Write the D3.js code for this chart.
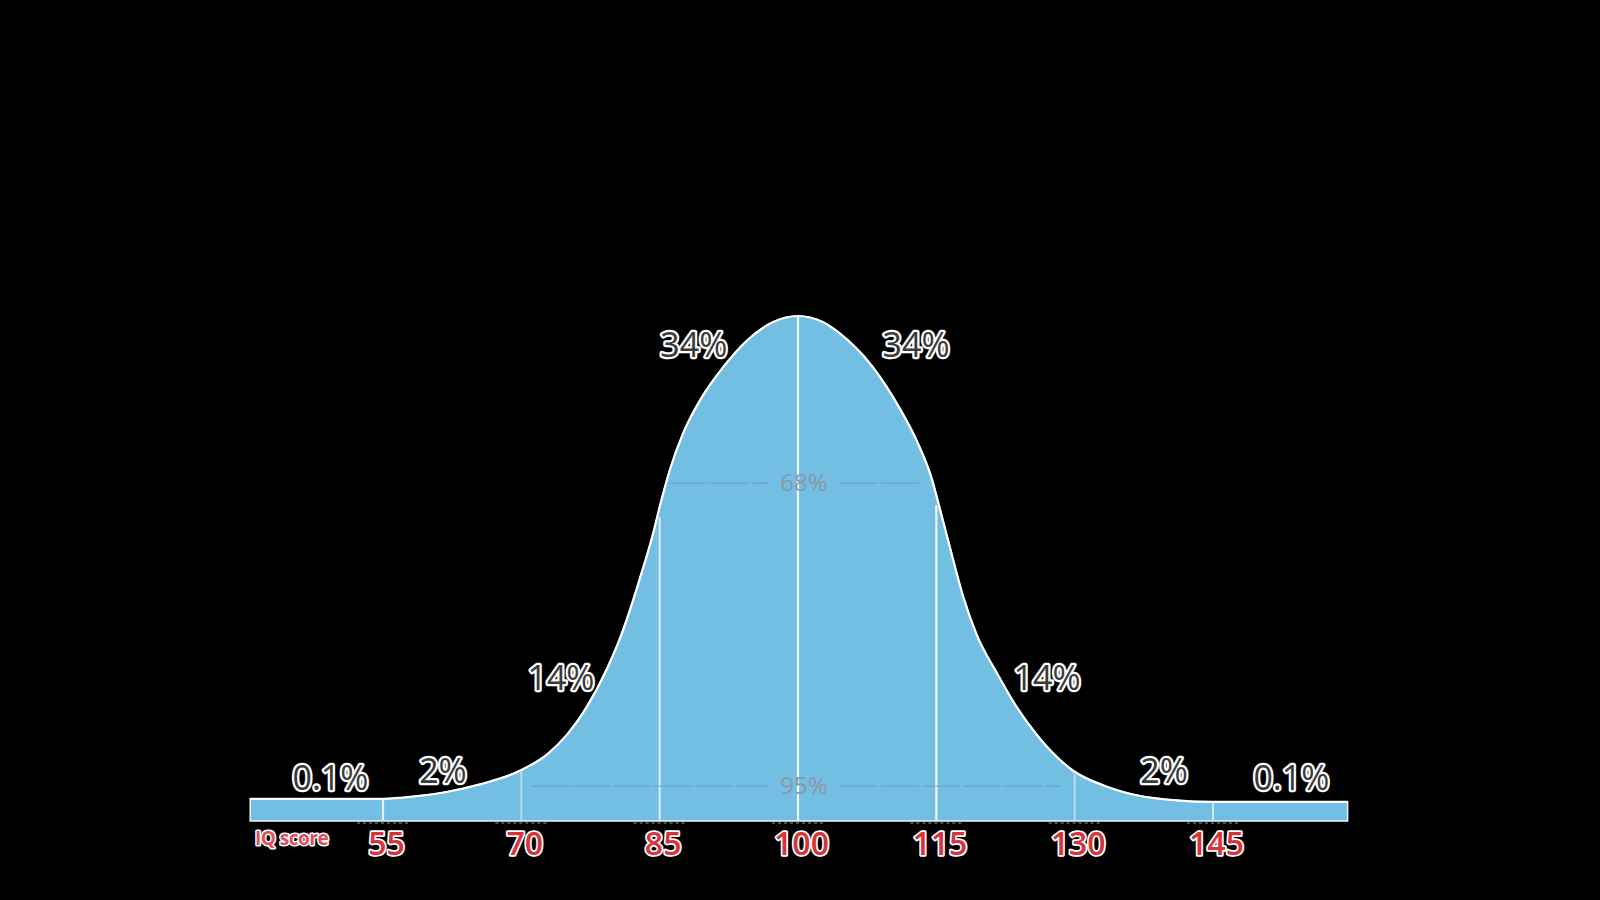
<!DOCTYPE html>
<html>
<head>
<meta charset="utf-8">
<script src="https://cdn.jsdelivr.net/npm/d3@7/dist/d3.min.js"></script>
<style>
  html, body { margin: 0; padding: 0; background: #000; }
  svg { display: block; }
  text { font-family: "Open Sans", "Noto Sans", sans-serif; }
</style>
</head>
<body>
<svg id="chart" width="1600" height="900"></svg>
<script>
// ---------- data ----------
const curveIQ = [40.6, 55.0, 58.5, 62.0, 65.6, 69.9, 72.8, 75.0, 77.1, 79.3, 80.7, 82.1, 82.9, 84.3, 85.0,
  86.1, 87.5, 89.4, 91.9, 94.5, 97.3, 100, 102.7, 104.5, 108.1, 111.0, 112.9, 114.6, 115.0,
  116.5, 117.9, 119.4, 121.6, 123.7, 126.2, 129.8, 133.5, 137.0, 141.0, 145.0, 159.6];
const curveDensity = [0.044, 0.044, 0.049, 0.058, 0.073, 0.100, 0.132, 0.172, 0.226, 0.302, 0.362, 0.436, 0.483, 0.570, 0.622,
  0.695, 0.766, 0.834, 0.899, 0.952, 0.988, 1.000, 0.988, 0.966, 0.899, 0.818, 0.752, 0.672, 0.645,
  0.540, 0.445, 0.368, 0.292, 0.226, 0.164, 0.100, 0.068, 0.050, 0.041, 0.038, 0.038];

const tickValues = [55, 70, 85, 100, 115, 130, 145];
const tickLabels = ["55", "70", "85", "100", "115", "130", "145"];
const axisTitle = "IQ score";

const bandLabels = ["0.1%", "2%", "14%", "34%", "34%", "14%", "2%", "0.1%"];
const bandLabelIQ = [49.3, 61.5, 74.3, 88.7, 112.8, 127.0, 139.7, 153.5];
const bandLabelLevel = [0.061, 0.075, 0.259, 0.919, 0.919, 0.259, 0.075, 0.061];

const rangeLabels = ["68%", "95%"];
const rangeFrom = [85, 70];
const rangeTo = [115, 130];
const rangeLevel = [0.669, 0.069];

// ---------- layout ----------
const svg = d3.select("#chart");
const x = d3.scaleLinear().domain([55, 145]).range([383, 1213]);
const y = d3.scaleLinear().domain([0, 1]).range([821, 316]);

const pts = curveIQ.map((v, i) => ({ iq: v, d: curveDensity[i] }));
const blue = "#73bee3";

function densityAt(iq) {
  for (let i = 1; i < pts.length; i++) {
    if (iq <= pts[i].iq) {
      const a = pts[i - 1], b = pts[i];
      const t = (iq - a.iq) / (b.iq - a.iq || 1);
      return a.d + t * (b.d - a.d);
    }
  }
  return pts[pts.length - 1].d;
}

// area
const area = d3.area()
  .x(p => x(p.iq)).y0(y(0)).y1(p => y(p.d))
  .curve(d3.curveMonotoneX);
svg.append("path").datum(pts)
  .attr("d", area)
  .attr("fill", blue)
  .attr("stroke", "#e9f4fa")
  .attr("stroke-width", 1.5);

// top outline
const line = d3.line().x(p => x(p.iq)).y(p => y(p.d)).curve(d3.curveMonotoneX);
svg.append("path").datum(pts)
  .attr("d", line)
  .attr("fill", "none")
  .attr("stroke", "#ffffff")
  .attr("stroke-width", 2.2);

// dividers
const dividerColor = { 55: "#e4f1f8", 70: "#b9dbee", 85: "#dbeaf3", 100: "#f4f9fc", 115: "#eef6fa", 130: "#b9dbee", 145: "#cfe6f3" };
svg.append("g").selectAll("line").data(tickValues).join("line")
  .attr("x1", d => x(d)).attr("x2", d => x(d))
  .attr("y1", y(0) - 1)
  .attr("y2", d => y(densityAt(d)) + (d === 85 || d === 115 ? 10 : 1))
  .attr("stroke", d => dividerColor[d])
  .attr("stroke-width", d => (d === 100 || d === 115 || d === 55) ? 2.2 : 2);

// small marks under the baseline at each tick
svg.append("g").selectAll("line").data(tickValues).join("line")
  .attr("x1", d => x(d) - 26).attr("x2", d => x(d) + 26)
  .attr("y1", y(0) + 2).attr("y2", y(0) + 2)
  .attr("stroke", "#ffffff").attr("stroke-opacity", 0.4)
  .attr("stroke-width", 1.5).attr("stroke-dasharray", "3 3");

// range lines (68%, 95%)
rangeLabels.forEach((lab, i) => {
  const cx = x(100) + 6;
  const yy = y(rangeLevel[i]);
  const g = svg.append("g");
  const segs = [[x(rangeFrom[i]) + 10, cx - 36], [cx + 36, x(rangeTo[i]) - 14]];
  segs.forEach(s => {
    g.append("line").attr("x1", s[0]).attr("x2", s[1]).attr("y1", yy).attr("y2", yy)
      .attr("stroke", "#6c97b3").attr("stroke-opacity", 0.55)
      .attr("stroke-width", 1.5).attr("stroke-dasharray", "38 3");
  });
  g.append("text").attr("x", cx).attr("y", yy + 8)
    .attr("text-anchor", "middle")
    .attr("font-size", 24)
    .attr("fill", "#8a98a4")
    .text(lab);
});

// band percentage labels
svg.append("g").selectAll("text").data(bandLabels).join("text")
  .attr("x", (d, i) => x(bandLabelIQ[i]))
  .attr("y", (d, i) => y(bandLabelLevel[i]))
  .attr("text-anchor", "middle")
  .attr("font-size", 34)
  .attr("font-weight", 500)
  .attr("fill", "#3a3a3a")
  .attr("stroke", "#ffffff")
  .attr("stroke-width", 4.5)
  .attr("stroke-linejoin", "round")
  .attr("paint-order", "stroke")
  .text(d => d);

// axis tick labels
const axis = d3.axisBottom(x).tickValues(tickValues)
  .tickFormat((d, i) => tickLabels[i]).tickSize(0).tickPadding(0);
const ag = svg.append("g").attr("transform", `translate(0,${y(0)})`).call(axis);
ag.select(".domain").remove();
ag.selectAll("text")
  .attr("dy", null)
  .attr("y", 34)
  .attr("dx", 3)
  .attr("font-family", "\"Open Sans\", sans-serif")
  .attr("font-size", 32)
  .attr("font-weight", 600)
  .attr("fill", "#d8333b")
  .attr("stroke", "#ffffff")
  .attr("stroke-width", 3.5)
  .attr("stroke-linejoin", "round")
  .attr("paint-order", "stroke");

// axis title
svg.append("text")
  .attr("x", 255).attr("y", 845)
  .attr("font-size", 19)
  .attr("font-weight", 700)
  .attr("letter-spacing", -0.5)
  .attr("fill", "#e0505c")
  .attr("stroke", "#ffffff")
  .attr("stroke-width", 3)
  .attr("stroke-linejoin", "round")
  .attr("paint-order", "stroke")
  .text(axisTitle);
</script>
</body>
</html>
